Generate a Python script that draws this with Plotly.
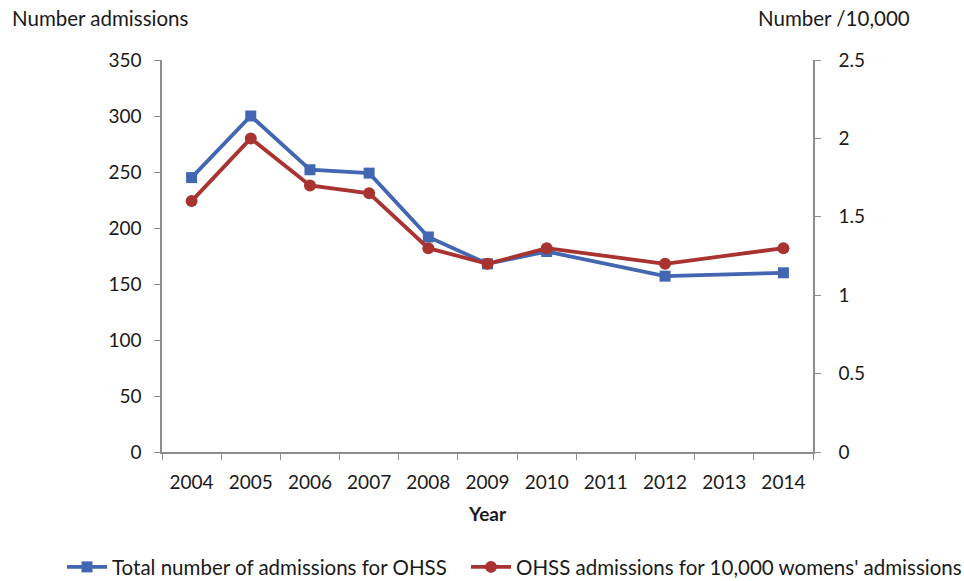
import plotly.graph_objects as go

years = ["2004", "2005", "2006", "2007", "2008", "2009", "2010", "2011", "2012", "2013", "2014"]
total_admissions = [245, 300, 252, 249, 192, 168, 179, None, 157, None, 160]
rate_per_10000 = [1.60, 2.00, 1.70, 1.65, 1.30, 1.20, 1.30, None, 1.20, None, 1.30]

left_ticks = [0, 50, 100, 150, 200, 250, 300, 350]
right_ticks = [0, 0.5, 1, 1.5, 2, 2.5]

BLUE = "#4266B2"
RED = "#A83330"
AXIS = "#8C8C8C"
FONT = "Lato, 'Open Sans', sans-serif"

fig = go.Figure()
fig.add_trace(go.Scatter(
    x=years, y=total_admissions, name="Total number of admissions for OHSS",
    mode="lines+markers", connectgaps=True, legend="legend",
    line=dict(color=BLUE, width=3.8),
    marker=dict(symbol="square", size=11, color=BLUE),
))
fig.add_trace(go.Scatter(
    x=years, y=rate_per_10000, name="OHSS admissions for 10,000 womens' admissions",
    mode="lines+markers", connectgaps=True, yaxis="y2", legend="legend2",
    line=dict(color=RED, width=3.8),
    marker=dict(symbol="circle", size=12, color=RED),
))

legend_style = dict(orientation="h", xref="container", yref="container",
                    xanchor="left", yanchor="middle", y=0.024,
                    font=dict(size=20.5), itemwidth=40, bgcolor="rgba(0,0,0,0)")

fig.update_layout(
    width=964, height=581,
    margin=dict(l=162, r=151, t=60, b=129, autoexpand=False),
    paper_bgcolor="white", plot_bgcolor="white",
    font=dict(family=FONT, size=19, color="#1a1a1a"),
    showlegend=True,
    legend=dict(x=62 / 964, **legend_style),
    legend2=dict(x=466 / 964, **legend_style),
    xaxis=dict(
        type="category", categoryorder="array", categoryarray=years,
        range=[-0.5, 10.5], showline=True, linecolor=AXIS, linewidth=1.5,
        ticks="outside", tickson="boundaries", ticklen=6, tickcolor=AXIS,
        showgrid=False, zeroline=False, ticklabelstandoff=12,
        title=dict(text="<b>Year</b>", font=dict(size=19), standoff=16),
    ),
    yaxis=dict(
        range=[0, 350], tickvals=left_ticks, showline=True, linecolor=AXIS, linewidth=1.5,
        ticks="outside", ticklen=6, tickcolor=AXIS, showgrid=False, zeroline=False,
        ticklabelstandoff=9,
    ),
    yaxis2=dict(
        range=[0, 2.5], tickvals=right_ticks, overlaying="y", side="right",
        showline=True, linecolor=AXIS, linewidth=1.5, ticks="outside", ticklen=6,
        tickcolor=AXIS, showgrid=False, zeroline=False, ticklabelstandoff=14,
    ),
    annotations=[
        dict(text="Number admissions", xref="paper", yref="paper", x=-0.234, y=1.107,
             xanchor="left", yanchor="middle", showarrow=False, font=dict(size=20.5)),
        dict(text="Number /10,000", xref="paper", yref="paper", x=1.152, y=1.107,
             xanchor="right", yanchor="middle", showarrow=False, font=dict(size=20.5)),
    ],
)

fig.write_html("out.html")
